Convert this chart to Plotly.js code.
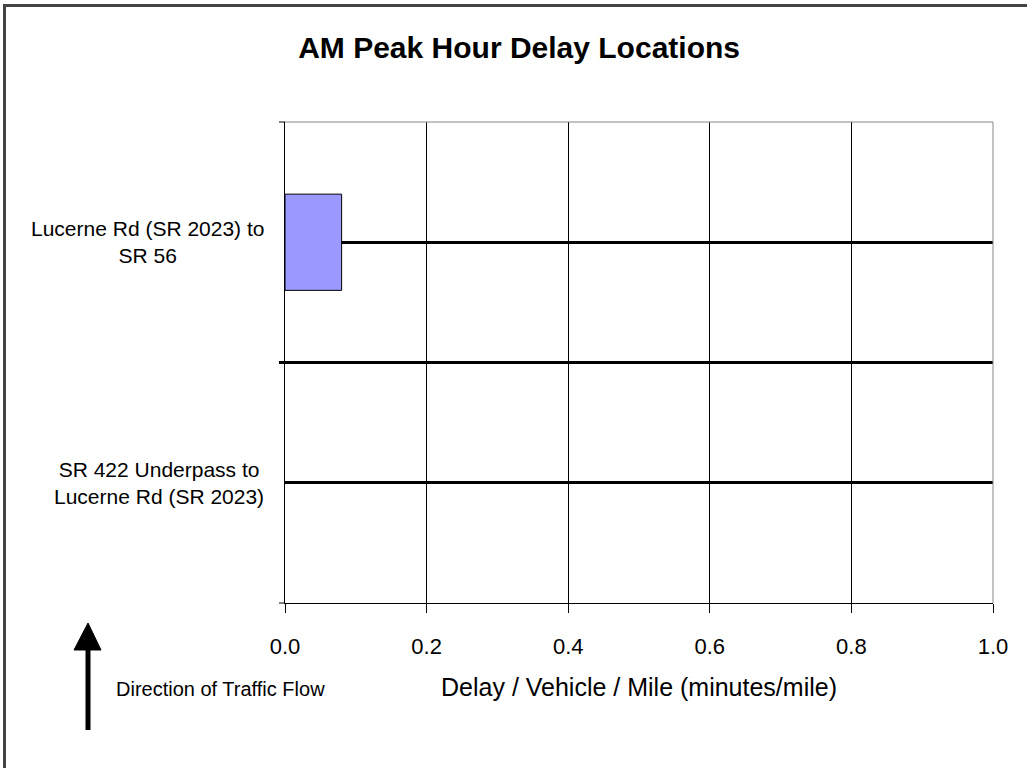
<!DOCTYPE html>
<html>
<head>
<meta charset="utf-8">
<script src="https://cdn.plot.ly/plotly-3.0.1.min.js"></script>
<style>
  html, body { margin: 0; padding: 0; background: #fff; }
  #wrap { position: relative; width: 1032px; height: 768px; }
  #chart { position: absolute; left: 0; top: 0; width: 1032px; height: 768px; }
  #frame { position: absolute; left: 3px; top: 4px; width: 1024px; height: 764px;
           border-left: 3px solid #444; border-top: 3px solid #444; box-sizing: border-box;
           pointer-events: none; }
</style>
</head>
<body>
<div id="wrap">
  <div id="chart"></div>
  <div id="frame"></div>
</div>
<script>
// ---- data ----
const categories = [
  "SR 422 Underpass to<br>Lucerne Rd (SR 2023)",
  "Lucerne Rd (SR 2023) to<br>SR 56"
];
const delayValues = [null, 0.08];   // no delay bar drawn for the first segment
const xTickValues = [0, 0.2, 0.4, 0.6, 0.8, 1.0];
const chartTitle = "AM Peak Hour Delay Locations";
const xTitle = "Delay / Vehicle / Mile (minutes/mile)";
const flowNote = "Direction of Traffic Flow";

const FONT = "Liberation Sans, Arial, sans-serif";

const trace = {
  type: "bar",
  orientation: "h",
  y: categories,
  x: delayValues,
  marker: { color: "#9999ff", line: { color: "#000", width: 1 } },
  hoverinfo: "x+y"
};

// plot area in pixels: left 285, right 993, top 122, bottom 603
const L = 285, R = 993, T = 122, B = 603;
const px = v => (v - L) / (R - L);
const py = v => (B - v) / (B - T);

const catAnnotations = categories.map(c => ({
  xref: "paper", yref: "y",
  x: px(266), y: c,
  xanchor: "right", yanchor: "middle",
  text: c, align: "center", showarrow: false,
  font: { family: FONT, size: 21, color: "#000" }
}));

const layout = {
  width: 1032, height: 768,
  margin: { l: L, r: 1032 - R, t: T, b: 768 - B },
  paper_bgcolor: "rgba(0,0,0,0)",
  plot_bgcolor: "#fff",
  showlegend: false,
  bargap: 0.6,
  title: {
    text: "<b>" + chartTitle + "</b>",
    xref: "container", x: 0.503, xanchor: "center",
    yref: "container", y: 1 - 47 / 768, yanchor: "middle",
    font: { family: FONT, size: 30, color: "#000" }
  },
  xaxis: {
    range: [0, 1],
    tickvals: xTickValues,
    tickformat: ".1f",
    ticks: "outside", ticklen: 9, tickcolor: "#000", tickwidth: 1,
    ticklabelstandoff: 15,
    showline: true, linecolor: "#000", linewidth: 1,
    showgrid: true, gridcolor: "#000", gridwidth: 1,
    zeroline: false,
    tickfont: { family: FONT, size: 22, color: "#000" },
    title: {
      text: xTitle, standoff: 20,
      font: { family: FONT, size: 25, color: "#000" }
    },
    fixedrange: true
  },
  yaxis: {
    type: "category",
    categoryorder: "array", categoryarray: categories,
    range: [-0.5, 1.5],
    showticklabels: false, ticks: "",
    showline: true, linecolor: "#000", linewidth: 1,
    showgrid: true, gridcolor: "#000", gridwidth: 3,
    zeroline: false,
    fixedrange: true
  },
  shapes: [
    // category boundary line in the middle
    { type: "line", xref: "paper", yref: "paper", x0: px(279), x1: 1, y0: 0.5, y1: 0.5,
      line: { color: "#000", width: 3 }, layer: "above" },
    // boundary ticks
    { type: "line", xref: "paper", yref: "paper", x0: px(279), x1: 0, y0: 1, y1: 1,
      line: { color: "#000", width: 1 } },
    { type: "line", xref: "paper", yref: "paper", x0: px(279), x1: 0, y0: 0, y1: 0,
      line: { color: "#000", width: 1 } },
    // plot border top and right (gray)
    { type: "line", xref: "paper", yref: "paper", x0: 0, x1: 1, y0: 1, y1: 1,
      line: { color: "#888", width: 1 }, layer: "above" },
    { type: "line", xref: "paper", yref: "paper", x0: 1, x1: 1, y0: 0, y1: 1,
      line: { color: "#888", width: 1 }, layer: "above" },
    // traffic direction arrow
    { type: "line", xref: "paper", yref: "paper", x0: px(88), x1: px(88), y0: py(648), y1: py(730),
      line: { color: "#000", width: 5 } },
    { type: "path", xref: "paper", yref: "paper",
      path: "M " + px(88) + " " + py(623) + " L " + px(101) + " " + py(650) +
            " L " + px(74) + " " + py(650) + " Z",
      fillcolor: "#000", line: { color: "#000", width: 1 } }
  ],
  annotations: catAnnotations.concat([
    { xref: "paper", yref: "paper", x: px(220), y: py(689),
      xanchor: "center", yanchor: "middle", text: flowNote, showarrow: false,
      font: { family: FONT, size: 20, color: "#000" } }
  ])
};

Plotly.newPlot("chart", [trace], layout, { displayModeBar: false, staticPlot: true });
</script>
</body>
</html>
